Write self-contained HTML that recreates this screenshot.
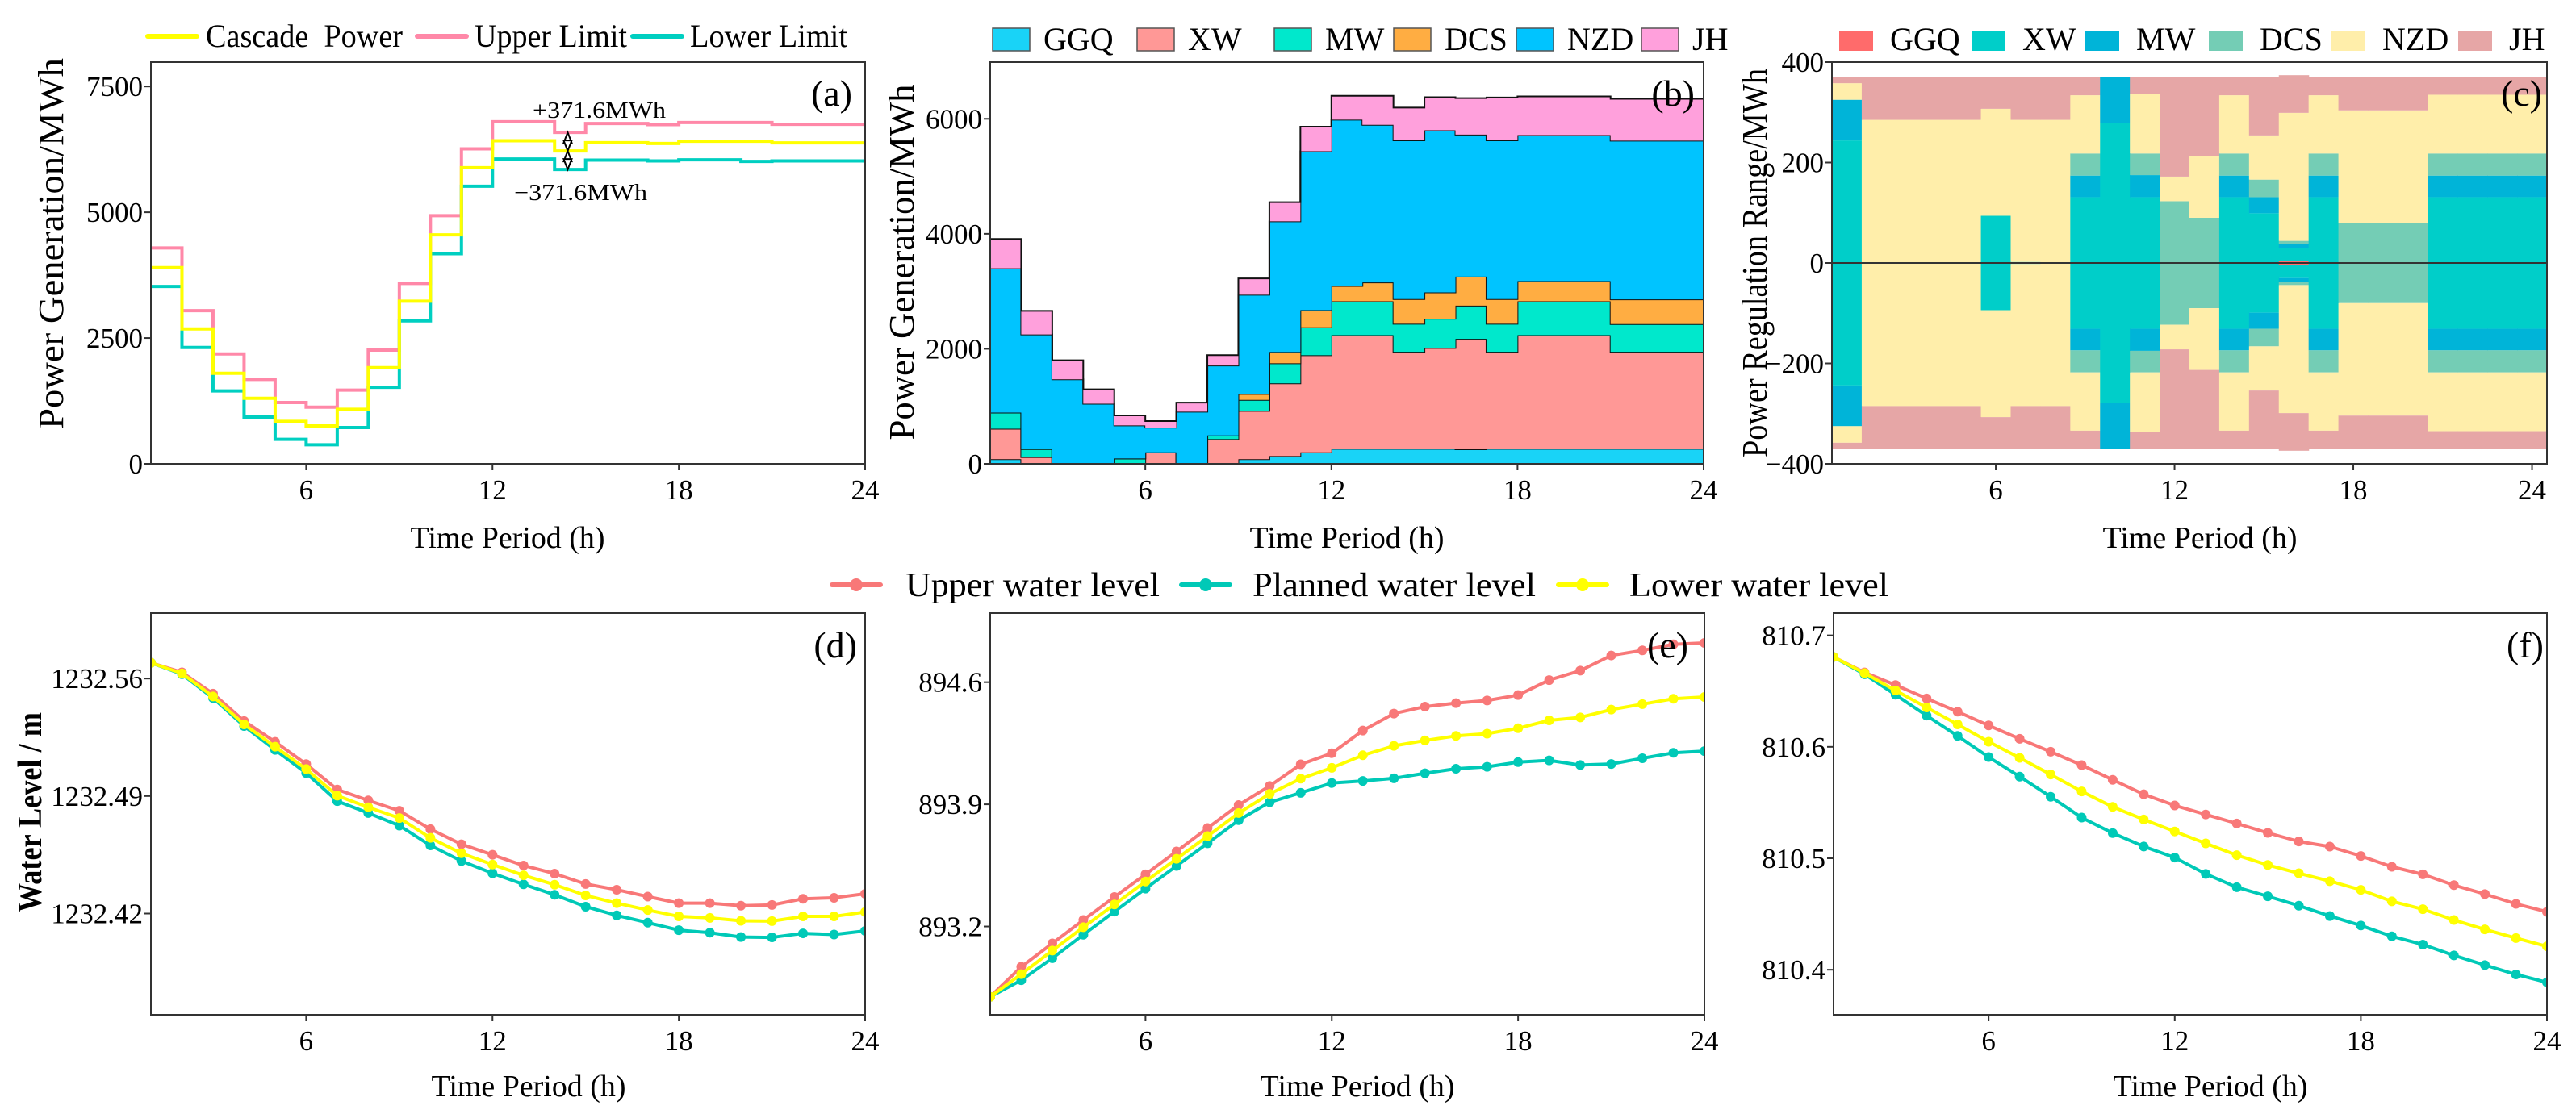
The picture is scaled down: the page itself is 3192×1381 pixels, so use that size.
<!DOCTYPE html>
<html><head><meta charset="utf-8"><style>
html,body{margin:0;padding:0;background:#fff;}
svg{display:block;font-family:"Liberation Serif",serif;}
</style></head><body>
<svg id="chart" xmlns="http://www.w3.org/2000/svg" width="3192" height="1381" viewBox="0 0 3192 1381">
<rect x="0" y="0" width="3192" height="1381" fill="#fff"/>
</svg>
<script>
// ---------- data ----------
const hours = [1,2,3,4,5,6,7,8,9,10,11,12,13,14,15,16,17,18,19,20,21,22,23,24];
const xTicks = [6,12,18,24];
// panel a
const aUpper   = [4290,3045,2185,1677,1218,1127,1464,2260,3585,4931,6261,6800,6800,6587,6763,6763,6742,6784,6784,6784,6747,6747,6747,6747];
const aCascade = [3900,2682,1800,1303,844,753,1084,1912,3232,4551,5886,6421,6421,6218,6383,6383,6367,6410,6410,6410,6378,6378,6378,6378];
const aLower   = [3526,2313,1448,930,486,379,721,1522,2842,4177,5518,6058,6058,5850,6036,6036,6021,6042,6042,6010,6021,6021,6021,6021];
const aYTicks = [0,2500,5000,7500];
// panel b (stack increments)
const bGGQ = [80,0,0,0,0,0,0,0,80,135,200,262,262,262,262,252,262,262,262,262,262,262,262,262];
const bXW  = [530,117,0,0,0,200,14,430,840,1265,1688,1976,1976,1687,1752,1921,1687,1976,1976,1976,1687,1687,1687,1687];
const bMW  = [280,140,0,0,93,0,0,65,192,348,486,589,589,486,509,579,486,589,589,589,481,481,481,481];
const bDCS = [0,0,0,0,0,0,0,0,103,196,299,267,327,430,458,505,430,351,351,351,430,430,430,430];
const bNZD = [2510,1993,1470,1045,575,430,892,1215,1725,2274,2763,2891,2742,2760,2819,2468,2760,2538,2538,2538,2760,2760,2760,2760];
const bJH  = [510,410,330,250,173,113,159,180,285,332,428,415,504,571,576,635,745,674,674,674,728,728,728,728];
const bYTicks = [0,2000,4000,6000];
// panel c (regulation range increments, mirrored)
const cGGQ = [0,0,0,0,0,0,0,0,0,0,0,0,0,0,0,4,0,0,0,0,0,0,0,0];
const cXW  = [244,0,0,0,0,94,2,0,131,278,131,0,0,131,99,26,131,0,0,0,131,131,131,131];
const cMW  = [81,0,0,0,0,0,0,0,43,92,44,0,0,43,32,8,43,0,0,0,43,43,43,43];
const cDCS = [0,0,0,0,0,0,0,0,44,0,43,123,90,44,35,6,44,80,80,80,44,44,44,44];
const cNZD = [33,285,285,285,285,213,283,285,116,0,118,49,123,116,88,255,116,224,224,224,117,117,117,117];
const cJH  = [12,85,85,85,85,63,85,85,36,0,34,198,157,36,116,75,36,66,66,66,35,35,35,35];
const cYTicks = [-400,-200,0,200,400];
const cYTickLabels = ["\u2212400","\u2212200","0","200","400"];
// panel d
const dUpper   = [1232.5694,1232.5637,1232.5510,1232.5347,1232.5223,1232.5090,1232.4939,1232.4874,1232.4812,1232.4703,1232.4613,1232.4550,1232.4486,1232.4438,1232.4376,1232.4342,1232.4301,1232.4262,1232.4262,1232.4247,1232.4251,1232.4288,1232.4294,1232.4318];
const dLower   = [1232.5694,1232.5630,1232.5493,1232.5327,1232.5194,1232.5061,1232.4902,1232.4833,1232.4769,1232.4651,1232.4559,1232.4492,1232.4428,1232.4372,1232.4308,1232.4262,1232.4221,1232.4183,1232.4174,1232.4157,1232.4155,1232.4183,1232.4183,1232.4209];
const dPlanned = [1232.5694,1232.5626,1232.5484,1232.5317,1232.5175,1232.5037,1232.4870,1232.4799,1232.4724,1232.4606,1232.4513,1232.4440,1232.4374,1232.4312,1232.4241,1232.4189,1232.4146,1232.4101,1232.4086,1232.4060,1232.4058,1232.4082,1232.4075,1232.4097];
const dYTicks = [1232.42,1232.49,1232.56];
// panel e
const eUpper   = [892.797,892.969,893.103,893.237,893.369,893.499,893.630,893.764,893.896,894.005,894.129,894.193,894.323,894.420,894.460,894.480,894.495,894.526,894.612,894.666,894.753,894.782,894.817,894.825];
const eLower   = [892.797,892.927,893.062,893.196,893.326,893.458,893.588,893.718,893.850,893.960,894.047,894.109,894.181,894.235,894.266,894.292,894.305,894.336,894.381,894.398,894.443,894.474,894.505,894.515];
const ePlanned = [892.797,892.892,893.018,893.153,893.285,893.417,893.547,893.677,893.809,893.912,893.966,894.022,894.034,894.049,894.078,894.104,894.115,894.142,894.152,894.125,894.131,894.164,894.195,894.205];
const eYTicks = [893.2,893.9,894.6];
// panel f
const fUpper   = [810.6806,810.6667,810.6554,810.6434,810.6315,810.6192,810.6072,810.5956,810.5836,810.5704,810.5574,810.5474,810.5393,810.5312,810.5228,810.5151,810.5105,810.5021,810.4924,810.4856,810.4759,810.4679,810.4591,810.4520];
const fLower   = [810.6806,810.6661,810.6505,810.6353,810.6201,810.6046,810.5901,810.5752,810.5600,810.5461,810.5348,810.5241,810.5134,810.5028,810.4940,810.4866,810.4795,810.4717,810.4614,810.4543,810.4446,810.4362,810.4284,810.4210];
const fPlanned = [810.6806,810.6651,810.6467,810.6280,810.6098,810.5908,810.5733,810.5552,810.5365,810.5226,810.5106,810.5006,810.4860,810.4740,810.4659,810.4575,810.4482,810.4397,810.4300,810.4226,810.4129,810.4042,810.3958,810.3887];
const fYTicks = [810.4,810.5,810.6,810.7];

// ---------- helpers ----------
const ns = 'http://www.w3.org/2000/svg';
const svg = document.getElementById('chart');
function mk(tag, attrs, parent){
  const e = document.createElementNS(ns, tag);
  for (const k in attrs) e.setAttribute(k, attrs[k]);
  (parent || svg).appendChild(e);
  return e;
}
function lin(d0,d1,r0,r1){ return v => r0 + (v-d0)/(d1-d0)*(r1-r0); }
function txt(s, attrs, parent){ const t = mk('text', attrs, parent); t.textContent = s; return t; }

const defs = mk('defs', {});

function panel(id, L, R, T, B, xs, ys, yTicks, yLabels, digits){
  const g = mk('g', {});
  
  
  const cp = mk('clipPath', {id: 'clip-' + id}, defs);
  mk('rect', {x: L, y: T, width: R-L, height: B-T}, cp);
  const plot = mk('g', {'clip-path': 'url(#clip-' + id + ')'}, g);
  
  
  return {g, plot, L, R, T, B, xs, ys, yTicks, yLabels, digits, id};
}
function drawFrame(p, titleCenterX, titleY){
  const f = mk('rect', {x: p.L, y: p.T, width: p.R-p.L, height: p.B-p.T, fill: 'none', stroke: '#333', 'stroke-width': 2}, p.g);
  
  
  p.yTicks.forEach((v, i) => {
    const y = p.ys(v);
    const tk = mk('line', {x1: p.L-8, x2: p.L, y1: y, y2: y, stroke: '#333', 'stroke-width': 2}, p.g);
    
    
    const lab = p.yLabels ? p.yLabels[i] : v.toFixed(p.digits);
    const t = txt(lab, {x: p.L-10, y: y+12, 'font-size': 35, 'text-anchor': 'end', fill: '#000'}, p.g);
    
    
  });
  xTicks.forEach(v => {
    const x = p.xs(v);
    const tk = mk('line', {x1: x, x2: x, y1: p.B, y2: p.B+8, stroke: '#333', 'stroke-width': 2}, p.g);
    
    
    const t = txt(String(v), {x: x, y: p.B+44, 'font-size': 35, 'text-anchor': 'middle', fill: '#000'}, p.g);
    
    
  });
  const xt = txt('Time Period (h)', {x: titleCenterX, y: titleY, 'font-size': 38, 'text-anchor': 'middle', textLength: 241, lengthAdjust: 'spacingAndGlyphs'}, p.g);
  
  
}
function panelLabel(p, s, x, y){
  const t = txt(s, {x: x, y: y, 'font-size': 46, 'text-anchor': 'end'}, p.g);
  
  
}
function yTitle(s, x, cy, len, size, parent, weight){
  const t = txt(s, {x: 0, y: 0, 'font-size': size, 'text-anchor': 'middle', 'font-weight': weight || 'normal', textLength: len, lengthAdjust: 'spacingAndGlyphs', transform: 'translate(' + x + ',' + cy + ') rotate(-90)'}, parent);
  
  
}
function stepPath(xs, ys, vals){
  let d = 'M' + xs(hours[0]) + ',' + ys(vals[0]);
  for (let i = 0; i < vals.length; i++){
    const x1 = xs(hours[i] + 1);
    if (i > 0) d += ' V' + ys(vals[i]);
    d += ' H' + x1;
  }
  return d;
}

// ---------- panel a ----------
const pa = panel('a', 187, 1072, 77, 575, lin(1,24,187,1072), lin(0,8000,575,76), aYTicks, null, 0);
[[aUpper,'#ff88a8','upper-limit-line'],[aLower,'#00cfc1','lower-limit-line'],[aCascade,'#ffff00','cascade-power-line']].forEach(s => {
  const pth = mk('path', {d: stepPath(pa.xs, pa.ys, s[0]), fill: 'none', stroke: s[1], 'stroke-width': 4}, pa.plot);
  
  
});
drawFrame(pa, 629, 679);
panelLabel(pa, '(a)', 1056, 131);
yTitle('Power Generation/MWh', 78, 302, 460, 44, pa.g);
// annotation
{
  const ax = pa.xs(14.5) - 3;
  const yU = pa.ys(aUpper[13]), yC = pa.ys(aCascade[13]), yL = pa.ys(aLower[13]);
  const ag = mk('g', {}, pa.g);
  
  
  mk('line', {x1: ax, x2: ax, y1: yU, y2: yL, stroke: '#000', 'stroke-width': 2}, ag);
  const heads = [[yU, 1],[yC, -1],[yC, 1],[yL, -1]];
  heads.forEach(h => {
    const y0 = h[0], dir = h[1];
    mk('path', {d: 'M' + ax + ',' + y0 + ' L' + (ax-5) + ',' + (y0+dir*13) + ' L' + (ax+5) + ',' + (y0+dir*13) + 'Z', fill: '#fff', stroke: '#000', 'stroke-width': 2}, ag);
  });
  const t1 = txt('+371.6MWh', {x: 660, y: 146, 'font-size': 28, textLength: 165, lengthAdjust: 'spacingAndGlyphs'}, ag);
  
  
  const t2 = txt('\u2212371.6MWh', {x: 637, y: 248, 'font-size': 28, textLength: 165, lengthAdjust: 'spacingAndGlyphs'}, ag);
  
  
}
// legend a
{
  const lg = mk('g', {}, svg);
  
  
  const items = [['Cascade  Power','#ffff00',183,255,244],['Upper Limit','#ff88a8',517,588,189],['Lower Limit','#00cfc1',784,855,195]];
  items.forEach(it => {
    const e = mk('g', {}, lg);
    
    
    mk('line', {x1: it[2], x2: it[2]+61, y1: 45, y2: 45, stroke: it[1], 'stroke-width': 6, 'stroke-linecap': 'round'}, e);
    const t = txt(it[0], {x: it[3], y: 58, 'font-size': 40, textLength: it[4], lengthAdjust: 'spacingAndGlyphs', 'xml:space': 'preserve'}, e);
    t.setAttribute('style', 'white-space:pre');
  });
}

// ---------- panel b ----------
const pb = panel('b', 1227, 2111, 77, 575, lin(1,24,1227,2111), lin(0,7000,575,76), bYTicks, null, 0);
{
  const series = [[bGGQ,'#19d3f7','GGQ'],[bXW,'#ff9896','XW'],[bMW,'#00e8cc','MW'],[bDCS,'#ffad42','DCS'],[bNZD,'#00c4ff','NZD'],[bJH,'#ffa0dc','JH']];
  let base = hours.map(() => 0);
  series.forEach(s => {
    const top = base.map((b, i) => b + s[0][i]);
    let d = stepPath(pb.xs, pb.ys, top);
    for (let i = hours.length - 1; i >= 0; i--){
      d += ' V' + pb.ys(base[i]) + ' H' + pb.xs(hours[i]);
    }
    d += 'Z';
    const a = mk('path', {d: d, fill: s[1], stroke: 'none'}, pb.plot);
    
    
    const ln = mk('path', {d: stepPath(pb.xs, pb.ys, top), fill: 'none', stroke: '#111', 'stroke-width': 2}, pb.plot);
    
    
    base = top;
  });
}
drawFrame(pb, 1669, 679);
panelLabel(pb, '(b)', 2100, 131);
yTitle('Power Generation/MWh', 1132, 325, 441, 44, pb.g);
{
  const lg = mk('g', {}, svg);
  
  
  const items = [['GGQ','#19d3f7',1230],['XW','#ff9896',1409],['MW','#00e8cc',1579],['DCS','#ffad42',1727],['NZD','#00c4ff',1879],['JH','#ffa0dc',2034]];
  items.forEach(it => {
    const e = mk('g', {}, lg);
    
    
    mk('rect', {x: it[2], y: 35, width: 46, height: 28, fill: it[1], stroke: '#555', 'stroke-width': 1.5}, e);
    txt(it[0], {x: it[2]+63, y: 62, 'font-size': 40}, e);
  });
}

// ---------- panel c ----------
const pc = panel('c', 2270, 3156, 77, 575, lin(0.5,24.5,2270,3156), lin(-400,400,575,77), cYTicks, cYTickLabels, 0);
{
  const series = [[cGGQ,'#ff6b6b','GGQ'],[cXW,'#00cec9','XW'],[cMW,'#00b4d8','MW'],[cDCS,'#74cdb5','DCS'],[cNZD,'#ffeeaa','NZD'],[cJH,'#e6a6a6','JH']];
  hours.forEach((h, i) => {
    let acc = 0;
    series.forEach(s => {
      const v = s[0][i];
      if (v <= 0) return;
      const x0 = pc.xs(h - 0.5), x1 = pc.xs(h + 0.5);
      const up = mk('rect', {x: x0, y: pc.ys(acc + v), width: x1 - x0 + 0.6, height: pc.ys(acc) - pc.ys(acc + v), fill: s[1]}, pc.plot);
      
      
      const dn = mk('rect', {x: x0, y: pc.ys(-acc), width: x1 - x0 + 0.6, height: pc.ys(-acc - v) - pc.ys(-acc), fill: s[1]}, pc.plot);
      
      
      acc += v;
    });
  });
  const zl = mk('line', {x1: pc.L, x2: pc.R, y1: pc.ys(0), y2: pc.ys(0), stroke: '#333', 'stroke-width': 2}, pc.plot);
  
  
}
drawFrame(pc, 2726, 679);
panelLabel(pc, '(c)', 3150, 131);
yTitle('Power Regulation Range/MWh', 2189, 326, 482, 44, pc.g);
{
  const lg = mk('g', {}, svg);
  
  
  const items = [['GGQ','#ff6b6b',2279],['XW','#00cec9',2443],['MW','#00b4d8',2584],['DCS','#74cdb5',2737],['NZD','#ffeeaa',2889],['JH','#e6a6a6',3046]];
  items.forEach(it => {
    const e = mk('g', {}, lg);
    
    
    mk('rect', {x: it[2], y: 38, width: 42, height: 25, fill: it[1]}, e);
    txt(it[0], {x: it[2]+63, y: 62, 'font-size': 40}, e);
  });
}

// ---------- water level panels ----------
function linePanel(p, up, pl, lo){
  [[up,'#f87878','upper-water-level'],[pl,'#00c9b7','planned-water-level'],[lo,'#ffff00','lower-water-level']].forEach(s => {
    const pts = s[0].map((v, i) => p.xs(hours[i]) + ',' + p.ys(v)).join(' ');
    const pl2 = mk('polyline', {points: pts, fill: 'none', stroke: s[1], 'stroke-width': 4, 'stroke-linejoin': 'round'}, p.plot);
    
    
    s[0].forEach((v, i) => {
      const c = mk('circle', {cx: p.xs(hours[i]), cy: p.ys(v), r: 6, fill: s[1]}, p.plot);
      
      
    });
  });
}
const pd = panel('d', 187, 1072, 760, 1258, lin(1,24,187,1072), lin(1232.3597,1232.599,1258,760), dYTicks, null, 2);
linePanel(pd, dUpper, dPlanned, dLower);
drawFrame(pd, 655, 1359);
panelLabel(pd, '(d)', 1062, 815);
yTitle('Water Level / m', 51, 1007, 248, 42, pd.g, 'bold');

const pe = panel('e', 1227, 2112, 760, 1258, lin(1,24,1227,2112), lin(892.694,894.996,1258,760), eYTicks, null, 1);
linePanel(pe, eUpper, ePlanned, eLower);
drawFrame(pe, 1682, 1359);
panelLabel(pe, '(e)', 2092, 815);

const pf = panel('f', 2272, 3156, 760, 1258, lin(1,24,2272,3156), lin(810.3596,810.72,1258,760), fYTicks, null, 1);
linePanel(pf, fUpper, fPlanned, fLower);
drawFrame(pf, 2739, 1359);
panelLabel(pf, '(f)', 3152, 815);

// bottom legend
{
  const lg = mk('g', {}, svg);
  
  
  const items = [['Upper water level','#f87878',1031,1122,315],['Planned water level','#00c9b7',1464,1552,351],['Lower water level','#ffff00',1931,2019,321]];
  items.forEach(it => {
    const e = mk('g', {}, lg);
    
    
    mk('line', {x1: it[2], x2: it[2]+60, y1: 725, y2: 725, stroke: it[1], 'stroke-width': 6, 'stroke-dasharray': '22 16', 'stroke-linecap': 'round'}, e);
    mk('circle', {cx: it[2]+30, cy: 725, r: 8, fill: it[1]}, e);
    txt(it[0], {x: it[3], y: 739, 'font-size': 42, textLength: it[4], lengthAdjust: 'spacingAndGlyphs'}, e);
  });
}
</script>
</body></html>
